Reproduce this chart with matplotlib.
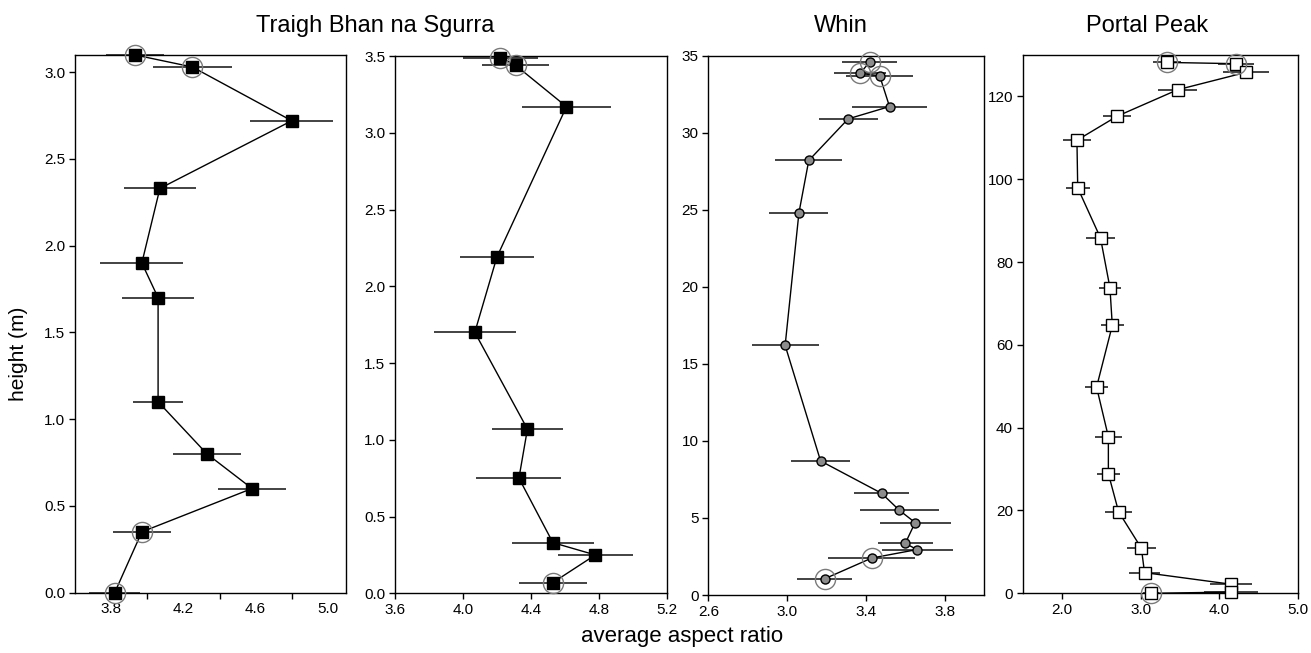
import numpy as np
import matplotlib
matplotlib.use("Agg")
import matplotlib.pyplot as plt

plt.rcParams['font.family'] = ['Liberation Sans', 'DejaVu Sans']

# Traigh Bhan na Sgurra, first profile
tbs1_height = [3.10, 3.03, 2.72, 2.33, 1.90, 1.70, 1.10, 0.80, 0.60, 0.35, 0.0]
tbs1_ratio = [3.93, 4.25, 4.80, 4.07, 3.97, 4.06, 4.06, 4.33, 4.58, 3.97, 3.82]
tbs1_err = [0.16, 0.22, 0.23, 0.20, 0.23, 0.20, 0.14, 0.19, 0.19, 0.16, 0.14]
tbs1_circled = [0, 1, 9, 10]

# Traigh Bhan na Sgurra, second profile
tbs2_height = [3.49, 3.44, 3.17, 2.19, 1.70, 1.07, 0.75, 0.33, 0.25, 0.07]
tbs2_ratio = [4.22, 4.31, 4.61, 4.20, 4.07, 4.38, 4.33, 4.53, 4.78, 4.53]
tbs2_err = [0.22, 0.20, 0.26, 0.22, 0.24, 0.21, 0.25, 0.24, 0.22, 0.20]
tbs2_circled = [0, 1, 9]

# Whin
whin_height = [34.6, 33.85, 33.7, 31.7, 30.9, 28.2, 24.8, 16.2, 8.7, 6.6,
               5.5, 4.7, 3.35, 2.95, 2.4, 1.05]
whin_ratio = [3.42, 3.37, 3.47, 3.52, 3.31, 3.11, 3.06, 2.99, 3.17, 3.48,
              3.57, 3.65, 3.60, 3.66, 3.43, 3.19]
whin_err = [0.14, 0.13, 0.17, 0.19, 0.15, 0.17, 0.15, 0.17, 0.15, 0.14,
            0.20, 0.18, 0.14, 0.18, 0.22, 0.14]
whin_circled = [0, 1, 2, 14, 15]

# Portal Peak
pp_height = [128.2, 127.9, 125.8, 121.6, 115.2, 109.4, 97.9, 85.8, 73.8, 64.7,
             49.8, 37.8, 28.9, 19.7, 10.9, 5.0, 2.2, 0.3, 0.0]
pp_ratio = [3.34, 4.21, 4.34, 3.47, 2.70, 2.19, 2.20, 2.49, 2.61, 2.64,
            2.44, 2.59, 2.59, 2.72, 3.01, 3.05, 4.15, 4.15, 3.13]
pp_err = [0.18, 0.23, 0.29, 0.25, 0.18, 0.18, 0.15, 0.19, 0.14, 0.15,
          0.15, 0.17, 0.15, 0.17, 0.18, 0.20, 0.27, 0.34, 0.10]
pp_circled = [0, 1, 18]

panels = [
    dict(h=tbs1_height, r=tbs1_ratio, e=tbs1_err, c=tbs1_circled,
         marker='s', ms=8.5, fc='black', xlim=(3.6, 5.1), ylim=(0, 3.1),
         xticks=[3.8, 4.2, 4.6, 5.0], xminor=[4.0, 4.4, 4.8],
         yticks=np.arange(0, 3.01, 0.5), yfmt='%.1f', xfmt='%.1f',
         pos=[0.0572, 0.0925, 0.2067, 0.8235]),
    dict(h=tbs2_height, r=tbs2_ratio, e=tbs2_err, c=tbs2_circled,
         marker='s', ms=8.5, fc='black', xlim=(3.6, 5.2), ylim=(0, 3.5),
         xticks=[3.6, 4.0, 4.4, 4.8, 5.2], xminor=[],
         yticks=np.arange(0, 3.51, 0.5), yfmt='%.1f', xfmt='%.1f',
         pos=[0.3013, 0.0914, 0.2072, 0.8228]),
    dict(h=whin_height, r=whin_ratio, e=whin_err, c=whin_circled,
         marker='o', ms=6.5, fc='#8c8c8c', xlim=(2.6, 4.0), ylim=(0, 35),
         xticks=[2.6, 3.0, 3.4, 3.8], xminor=[],
         yticks=np.arange(0, 36, 5), yfmt='%d', xfmt='%.1f',
         pos=[0.5403, 0.0888, 0.2103, 0.8259]),
    dict(h=pp_height, r=pp_ratio, e=pp_err, c=pp_circled,
         marker='s', ms=8, fc='white', xlim=(1.5, 5.0), ylim=(0, 130),
         xticks=[2.0, 3.0, 4.0, 5.0], xminor=[],
         yticks=np.arange(0, 121, 20), yfmt='%d', xfmt='%.1f',
         pos=[0.7801, 0.0914, 0.2098, 0.8244]),
]

fig = plt.figure(figsize=(13.11, 6.53), dpi=100)

for p in panels:
    ax = fig.add_axes(p['pos'])
    h = np.array(p['h'])
    r = np.array(p['r'])
    ax.errorbar(r, h, xerr=p['e'], fmt='none', ecolor='#222222',
                elinewidth=1.2, capsize=0, zorder=2, clip_on=False)
    ax.plot(r, h, '-', color='black', lw=1.0, zorder=3, clip_on=False)
    ax.plot(r, h, linestyle='none', marker=p['marker'], ms=p['ms'],
            mfc=p['fc'], mec='black', mew=1.0, zorder=4, clip_on=False)
    idx = p['c']
    ax.plot(r[idx], h[idx], linestyle='none', marker='o', ms=14.5,
            mfc='none', mec='#7a7a7a', mew=1.0, zorder=5, clip_on=False)
    ax.set_xlim(p['xlim'])
    ax.set_ylim(p['ylim'])
    ax.set_xticks(p['xticks'])
    ax.set_xticklabels([p['xfmt'] % v for v in p['xticks']])
    ax.set_yticks(p['yticks'])
    ax.set_yticklabels([p['yfmt'] % v for v in p['yticks']])
    if p['xminor']:
        ax.set_xticks(p['xminor'], minor=True)
        ax.tick_params(axis='x', which='major', length=0, pad=7)
        ax.tick_params(axis='x', which='minor', length=4, width=1)
    else:
        ax.tick_params(axis='x', which='major', length=4, width=1, pad=3)
    ax.tick_params(axis='y', length=4, width=1, pad=3)
    ax.tick_params(labelsize=11)
    for s in ax.spines.values():
        s.set_linewidth(1.0)

fig.text(0.286, 0.951, 'Traigh Bhan na Sgurra', ha='center', va='baseline', fontsize=17)
fig.text(0.641, 0.951, 'Whin', ha='center', va='baseline', fontsize=17)
fig.text(0.875, 0.951, 'Portal Peak', ha='center', va='baseline', fontsize=17)
fig.text(0.014, 0.458, 'height (m)', rotation=90, ha='center', va='center', fontsize=15)
fig.text(0.520, 0.026, 'average aspect ratio', ha='center', va='center', fontsize=16)

fig.savefig('out.png', dpi=100)
